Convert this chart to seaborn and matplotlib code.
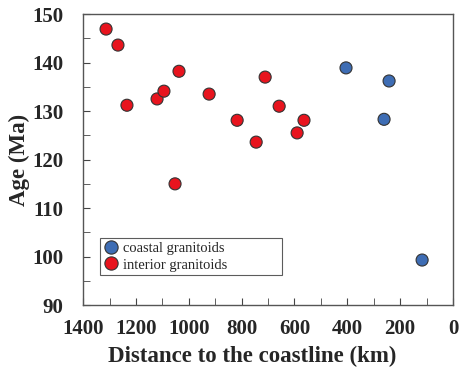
import pandas as pd
import matplotlib.pyplot as plt
import seaborn as sns
from matplotlib.ticker import MultipleLocator

# values
coastal_dist = [405, 242, 261, 117]
coastal_age = [138.9, 136.2, 128.3, 99.3]

interior_dist = [1313, 1268, 1234, 1120, 1094, 1037, 1052, 923, 711, 658, 817, 745, 564, 590]
interior_age = [146.9, 143.6, 131.2, 132.5, 134.1, 138.2, 115.0, 133.5, 137.0, 131.0, 128.1, 123.6, 128.1, 125.5]

groups = ["coastal granitoids", "interior granitoids"]

df = pd.DataFrame({
    "dist": coastal_dist + interior_dist,
    "age": coastal_age + interior_age,
    "group": [groups[0]] * len(coastal_dist) + [groups[1]] * len(interior_dist),
})

sns.set_style("white")
plt.rcParams['font.family'] = ['Liberation Serif', 'DejaVu Serif']

fig = plt.figure(figsize=(4.59, 3.69), dpi=100)
ax = fig.add_axes([0.181, 0.173, 0.806, 0.789])

sns.scatterplot(data=df, x="dist", y="age", hue="group", hue_order=groups,
                palette={groups[0]: "#3E6DB4", groups[1]: "#E8141E"},
                s=75, edgecolor="#333333", linewidth=0.8, ax=ax, zorder=3)

ax.set_xlim(1400, 0)
ax.set_ylim(90, 150)
ax.xaxis.set_major_locator(MultipleLocator(200))
ax.xaxis.set_minor_locator(MultipleLocator(100))
ax.yaxis.set_major_locator(MultipleLocator(10))
ax.yaxis.set_minor_locator(MultipleLocator(5))
ax.tick_params(which="both", direction="in", top=False, right=False, bottom=True, left=True,
               color="#444444")
ax.tick_params(which="major", length=5, labelsize=15)
ax.tick_params(axis="x", which="major", pad=10)
ax.tick_params(axis="y", which="major", pad=14)
ax.tick_params(which="minor", length=5)
for lab in ax.get_xticklabels() + ax.get_yticklabels():
    lab.set_fontweight("bold")

for sp in ax.spines.values():
    sp.set_color("#555555")
    sp.set_linewidth(1.0)

ax.set_xlabel("Distance to the coastline (km)", fontsize=16.5, fontweight="bold", labelpad=5)
ax.xaxis.label.set_x(0.457)  # label sits a bit left of centre in the original
ax.set_ylabel("Age (Ma)", fontsize=16.5, fontweight="bold", labelpad=2)

leg = ax.legend(loc="lower left", bbox_to_anchor=(0.046, 0.103, 0.492, 0.134), mode="expand",
                borderaxespad=0, fontsize=10.5, frameon=True, fancybox=False,
                handletextpad=0.3, borderpad=0.25, labelspacing=0.25, handlelength=1.0,
                markerscale=1.1)
leg.get_frame().set_edgecolor("#333333")
leg.get_frame().set_linewidth(0.8)

fig.savefig("out.png", dpi=100)
